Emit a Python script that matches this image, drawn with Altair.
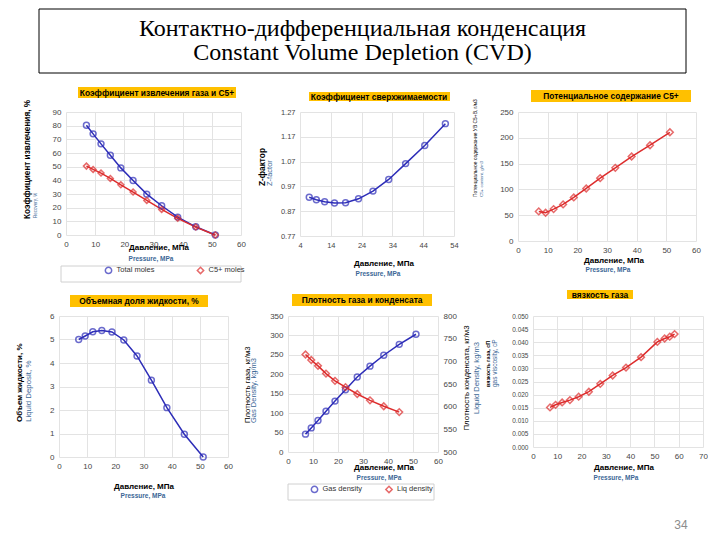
import altair as alt
import pandas as pd

# ---------------- data ----------------
pressure = [7.0, 9.3, 12.0, 15.2, 18.8, 23.0, 27.7, 32.8, 38.3, 44.5, 51.2]
recovery_total = [80.3, 74.0, 66.7, 58.4, 49.1, 39.9, 29.9, 21.4, 13.1, 6.0, 0.0]
recovery_c5 = [50.4, 48.0, 45.3, 41.4, 36.7, 31.4, 25.3, 18.7, 12.2, 5.8, 0.0]
z_factor = [0.926, 0.916, 0.908, 0.903, 0.904, 0.920, 0.951, 0.998, 1.062, 1.135, 1.223]
c5_content = [57.3, 54.8, 61.9, 70.9, 84.4, 101.8, 121.8, 141.8, 163.7, 185.6, 210.7]
liquid_deposit = [5.0, 5.15, 5.33, 5.38, 5.32, 4.98, 4.3, 3.27, 2.1, 0.97, 0.0]
gas_density = [46, 62, 81, 105, 131, 160, 193, 221, 249, 277, 303]
liq_pressure = [7.0, 9.3, 12.0, 15.2, 18.8, 23.0, 27.7, 32.8, 38.3, 44.5]
liq_density = [715, 703, 690, 673, 657, 643, 628, 614, 601, 588]
visc_pressure = [7.0, 9.3, 12.0, 15.2, 18.8, 23.0, 27.7, 32.8, 38.3, 44.5, 51.2, 54.2, 56.3, 58.3]
gas_viscosity = [0.0151, 0.0161, 0.0170, 0.0179, 0.0192, 0.0211, 0.0241, 0.0273,
                 0.0303, 0.0343, 0.0401, 0.0414, 0.0421, 0.0431]

series_recovery = ["Total moles", "C5+ moles"]
series_density = ["Gas density", "Liq density"]

ticks_x60 = [0, 10, 20, 30, 40, 50, 60]
ticks_x70 = [0, 10, 20, 30, 40, 50, 60, 70]
ticks_zx = [4, 14, 24, 34, 44, 54]
ticks_zy = [0.77, 0.87, 0.97, 1.07, 1.17, 1.27]
ticks_rec = [0, 10, 20, 30, 40, 50, 60, 70, 80, 90]
ticks_c5 = [0, 50, 100, 150, 200, 250]
ticks_dep = [0, 1, 2, 3, 4, 5, 6]
ticks_gas = [0, 50, 100, 150, 200, 250, 300, 350]
ticks_liq = [500, 550, 600, 650, 700, 750, 800]
ticks_visc = [0, 0.005, 0.01, 0.015, 0.02, 0.025, 0.03, 0.035, 0.04, 0.045, 0.05]

# ---------------- style ----------------
SANS = "Liberation Sans"
SERIF = "Liberation Serif"
FRAME = "#1f1f9e"
BLUE = "#2d2db8"
RED = "#dd2c2c"
SUB = "#3b6796"
HL = "#FFC000"
GRID = "#e3e3e3"
LBL = "#464646"
TSZ = 8.4

one = pd.DataFrame({"k": [0]})


def label(text, x, y, size, bold=False, color="#000000", angle=0, align="center", font=SANS):
    return alt.Chart(one).mark_text(
        text=text, fontSize=size, fontWeight="bold" if bold else "normal",
        color=color, angle=angle, align=align, baseline="middle", font=font
    ).encode(x=alt.value(x), y=alt.value(y))


def band(x1, x2, y1, y2):
    return alt.Chart(one).mark_rect(color=HL).encode(
        x=alt.value(x1), x2=alt.value(x2), y=alt.value(y1), y2=alt.value(y2))


def outline(x1, x2, y1, y2, color, width=1):
    return alt.Chart(one).mark_rect(fillOpacity=0, stroke=color, strokeWidth=width).encode(
        x=alt.value(x1), x2=alt.value(x2), y=alt.value(y1), y2=alt.value(y2))


def axis(values, fmt=None, orient=None, grid=True, size=8):
    kw = dict(values=values, title=None, grid=grid, gridColor=GRID, gridWidth=1,
              domain=False, ticks=False, labelFont=SANS, labelFontSize=size,
              labelColor=LBL, labelPadding=5, labelFlush=False, labelOverlap=False)
    if fmt:
        kw["format"] = fmt
    if orient:
        kw["orient"] = orient
    return alt.Axis(**kw)


def sc(domain):
    return alt.Scale(domain=domain, nice=False, zero=False)


def frame(w, h):
    return dict(width=w, height=h, view=alt.ViewBackground(stroke=FRAME, strokeWidth=3, fill="white"))


def xlabels(cx1, y1, cx2, y2):
    return [label("Давление, МПа", cx1, y1, 8, bold=True),
            label("Pressure, MPa", cx2, y2, 6.5, bold=True, color=SUB)]


def spacer(w, h=1):
    return alt.Chart(one).mark_point(opacity=0).encode(
        x=alt.value(0), y=alt.value(0)
    ).properties(width=w, height=h, view=alt.ViewBackground(strokeOpacity=0))


def legend_cfg(lx, ly, pad):
    return alt.Legend(orient="none", legendX=lx, legendY=ly, direction="horizontal",
                      title=None, labelFont=SANS, labelFontSize=7.5, labelColor="#333333",
                      symbolSize=40, symbolStrokeWidth=1.5, columnPadding=pad,
                      padding=0, labelOffset=4)


def line_pts(df, xenc, yenc, color, shape, size):
    b = alt.Chart(df).encode(x=xenc, y=yenc)
    return [b.mark_line(color=color, strokeWidth=1.5),
            b.mark_point(shape=shape, filled=False, color=color, size=size, strokeWidth=1.5)]


# ---------------- panel 1 ----------------
x1 = alt.X("p:Q", scale=sc([0, 60]), axis=axis(ticks_x60))
y1 = alt.Y("v:Q", scale=sc([0, 90]), axis=axis(ticks_rec))
df1t = pd.DataFrame({"p": pressure, "v": recovery_total})
df1c = pd.DataFrame({"p": pressure, "v": recovery_c5})
df1 = pd.DataFrame({
    "p": pressure + pressure,
    "v": recovery_total + recovery_c5,
    "s": [series_recovery[0]] * len(pressure) + [series_recovery[1]] * len(pressure),
})
cs1 = alt.Scale(domain=series_recovery, range=[BLUE, RED])
ss1 = alt.Scale(domain=series_recovery, range=["circle", "diamond"])
lg1 = legend_cfg(38.5, 154, 39)
p1 = alt.layer(
    outline(-27, 620, -103, -39, "#000000"),
    label("Контактно-дифференциальная конденсация", 296.5, -83, 24, font=SERIF),
    label("Constant Volume Depletion (CVD)", 296.5, -59, 24, font=SERIF),
    alt.Chart(df1t).mark_line(color=BLUE, strokeWidth=1.5).encode(x=x1, y=y1),
    alt.Chart(df1c).mark_line(color=RED, strokeWidth=1.5).encode(x=x1, y=y1),
    alt.Chart(df1).mark_point(filled=False, size=35, strokeWidth=1.5).encode(
        x=x1, y=y1,
        color=alt.Color("s:N", scale=cs1, legend=lg1),
        shape=alt.Shape("s:N", scale=ss1, legend=lg1)),
    band(12, 170, -25, -14),
    label("Коэффициент извлечения газа и C5+", 91, -19.5, TSZ, bold=True),
    *xlabels(93, 136, 85, 147),
    label("Коэффициент извлечения, %", -38, 107, 8.2, bold=True, angle=270, align="left"),
    label("Recovery, %", -30, 106, 4.5, color=SUB, angle=270, align="left"),
    outline(-5, 175, 154, 170, "#d0d0d0"),
).properties(**frame(175, 123))

# ---------------- panel 2 ----------------
df2 = pd.DataFrame({"p": pressure, "v": z_factor})
p2 = alt.layer(
    *line_pts(df2,
              alt.X("p:Q", scale=sc([4, 54]), axis=axis(ticks_zx, size=7.5)),
              alt.Y("v:Q", scale=sc([0.77, 1.27]), axis=axis(ticks_zy, fmt=".2f", size=7.5)),
              BLUE, "circle", 35),
    band(9, 150, -20, -11),
    label("Коэффициент сверхжимаемости", 79, -15.5, TSZ, bold=True),
    *xlabels(84, 152, 78, 162),
    label("Z-фактор", -37, 74, 8.3, bold=True, angle=270, align="left"),
    label("Z-factor", -30, 74, 7.5, color=SUB, angle=270, align="left"),
).properties(**frame(154, 124))

# ---------------- panel 3 ----------------
df3 = pd.DataFrame({"p": pressure, "v": c5_content})
p3 = alt.layer(
    *line_pts(df3,
              alt.X("p:Q", scale=sc([0, 60]), axis=axis(ticks_x60)),
              alt.Y("v:Q", scale=sc([0, 250]), axis=axis(ticks_c5)),
              RED, "diamond", 45),
    band(13, 173, -22, -10),
    label("Потенциальное содержание  C5+", 93, -16, TSZ, bold=True),
    *xlabels(96, 149, 90, 158),
    label("Потенциальное содержание УВ C5+В, г/м3", -42, 85, 4.9, angle=270, align="left"),
    label("C5+ content, g/m3", -36, 85, 4.4, color=SUB, angle=270, align="left"),
).properties(**frame(178, 129))

# ---------------- panel 4 ----------------
df4 = pd.DataFrame({"p": pressure, "v": liquid_deposit})
p4 = alt.layer(
    *line_pts(df4,
              alt.X("p:Q", scale=sc([0, 60]), axis=axis(ticks_x60)),
              alt.Y("v:Q", scale=sc([0, 6]), axis=axis(ticks_dep)),
              BLUE, "circle", 35),
    band(11, 149, -21, -9),
    label("Объемная доля жидкости, %", 80, -15, TSZ, bold=True),
    *xlabels(85, 171, 84, 180),
    label("Объем жидкости, %", -39, 106, 8, bold=True, angle=270, align="left"),
    label("Liquid Deposit, %", -30, 106, 7.9, color=SUB, angle=270, align="left"),
).properties(**frame(169, 141))

# ---------------- panel 5 ----------------
df5g = pd.DataFrame({"p": pressure, "gas": gas_density, "s": [series_density[0]] * len(pressure)})
df5l = pd.DataFrame({"p": liq_pressure, "liq": liq_density, "s": [series_density[1]] * len(liq_pressure)})
cs5 = alt.Scale(domain=series_density, range=[BLUE, RED])
ss5 = alt.Scale(domain=series_density, range=["circle", "diamond"])
lg5 = legend_cfg(22.5, 169, 19.5)
x5 = alt.X("p:Q", scale=sc([0, 60]), axis=axis(ticks_x60))
yg = alt.Y("gas:Q", scale=sc([0, 350]), axis=axis(ticks_gas))
yl = alt.Y("liq:Q", scale=sc([500, 800]), axis=axis(ticks_liq, orient="right", grid=False))
gas_layer = alt.layer(
    alt.Chart(df5g).mark_line(color=BLUE, strokeWidth=1.5).encode(x=x5, y=yg),
    alt.Chart(df5g).mark_point(filled=False, size=35, strokeWidth=1.5).encode(
        x=x5, y=yg,
        color=alt.Color("s:N", scale=cs5, legend=lg5), shape=alt.Shape("s:N", scale=ss5, legend=lg5)),
)
liq_layer = alt.layer(
    alt.Chart(df5l).mark_line(color=RED, strokeWidth=1.5).encode(x=x5, y=yl),
    alt.Chart(df5l).mark_point(filled=False, size=45, strokeWidth=1.5).encode(
        x=x5, y=yl,
        color=alt.Color("s:N", scale=cs5, legend=lg5), shape=alt.Shape("s:N", scale=ss5, legend=lg5)),
)
p5 = alt.layer(
    gas_layer, liq_layer,
    band(4, 144, -22, -10),
    label("Плотность газа и конденсата", 74, -16, TSZ, bold=True),
    *xlabels(96, 152, 91, 162),
    label("Плотность газа, кг/м3", -40, 107, 7.7, angle=270, align="left"),
    label("Gas Density, kg/m3", -34, 107, 7.5, color=SUB, angle=270, align="left"),
    label("Плотность конденсата, кг/м3", 179, 62, 7.9, angle=270),
    label("Liquid Density, kg/m3", 189, 62, 7.6, color=SUB, angle=270),
    outline(0, 146, 168, 184, "#d0d0d0"),
).resolve_scale(y="independent").properties(**frame(150, 136))

# ---------------- panel 6 ----------------
df6 = pd.DataFrame({"p": visc_pressure, "v": gas_viscosity})
p6 = alt.layer(
    *line_pts(df6,
              alt.X("p:Q", scale=sc([0, 70]), axis=axis(ticks_x70)),
              alt.Y("v:Q", scale=sc([0, 0.05]), axis=axis(ticks_visc, fmt=".3f", size=6.5)),
              RED, "diamond", 45),
    band(34, 100, -26, -17),
    label("вязкость газа", 67, -21.5, TSZ, bold=True),
    *xlabels(91, 152, 83, 162),
    label("вязкость газа, сП", -45, 71, 5.4, bold=True, angle=270, align="left"),
    label("gas viscosity, cP", -38, 71, 6.5, color=SUB, angle=270, align="left"),
    label("34", 148, 209, 12, color="#8c8c8c"),
).properties(**frame(170, 131))

row1 = alt.hconcat(
    spacer(8), p1, spacer(39), p2, spacer(44), p3, spacing=10, bounds="flush"
).resolve_scale(color="independent", shape="independent")
row2 = alt.hconcat(
    spacer(1), p4, spacer(40), p5, spacer(75), p6, spacing=10, bounds="flush"
).resolve_scale(color="independent", shape="independent")

chart = alt.vconcat(
    row1, row2, spacing=7, bounds="full"
).resolve_scale(
    color="independent", shape="independent"
).properties(
    padding={"left": 7, "top": 0, "right": 0, "bottom": 0}
).configure_view(strokeOpacity=0)

chart.save("out.html", embed_options={"renderer": "svg", "actions": False})
